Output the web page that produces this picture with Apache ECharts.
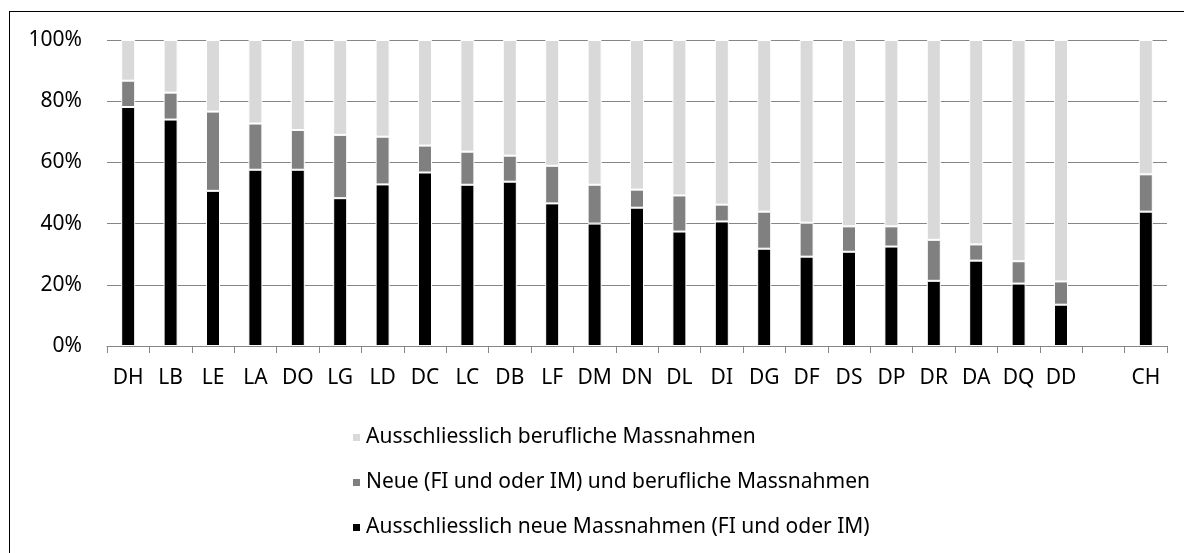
<!DOCTYPE html>
<html>
<head>
<meta charset="utf-8">
<script src="https://cdn.jsdelivr.net/npm/echarts@6/dist/echarts.min.js"></script>
<style>
    html, body { margin: 0; padding: 0; background: #fff; }
    #chart { position: absolute; left: 0; top: 0; width: 1184px; height: 553px; }
    #frame { position: absolute; left: 9px; top: 11px; width: 1300px; height: 700px;
             border-left: 1.5px solid #000; border-top: 1.5px solid #000; pointer-events: none; }
</style>
</head>
<body>
<div id="chart"></div>
<div id="frame"></div>
<script>
// Kantone / Regionen, leere Kategorie als Abstand vor CH
var categories = ['DH', 'LB', 'LE', 'LA', 'DO', 'LG', 'LD', 'DC', 'LC', 'DB', 'LF', 'DM', 'DN',
    'DL', 'DI', 'DG', 'DF', 'DS', 'DP', 'DR', 'DA', 'DQ', 'DD', '', 'CH'];

var seriesNames = [
    'Ausschliesslich neue Massnahmen (FI und oder IM)',
    'Neue (FI und oder IM) und berufliche Massnahmen',
    'Ausschliesslich berufliche Massnahmen'
];

// Anteile in %
var nurNeu = [78.1, 74.0, 50.7, 57.6, 57.6, 48.3, 52.8, 56.7, 52.7, 53.7, 46.6, 40.0, 45.2,
    37.4, 40.7, 31.8, 29.2, 30.8, 32.5, 21.3, 27.9, 20.4, 13.5, '-', 43.9];
var neuUndBeruflich = [8.6, 8.8, 25.9, 15.1, 13.0, 20.7, 15.6, 8.8, 10.8, 8.5, 12.3, 12.7, 5.9,
    11.8, 5.5, 12.1, 11.1, 8.3, 6.6, 13.4, 5.3, 7.3, 7.6, '-', 12.2];
var nurBeruflich = [13.3, 17.2, 23.4, 27.3, 29.4, 31.0, 31.6, 34.5, 36.5, 37.8, 41.1, 47.3, 48.9,
    50.8, 53.8, 56.1, 59.7, 60.9, 60.9, 65.3, 66.8, 72.3, 78.9, '-', 43.9];

var yTicks = { min: 0, max: 100, interval: 20 };

var colors = ['#000000', '#808080', '#d9d9d9'];
var font = '"Noto Sans", "Open Sans", sans-serif';

var chart = echarts.init(document.getElementById('chart'));

var makeSeries = function (name, data, color) {
    return {
        name: name,
        type: 'bar',
        stack: 'total',
        barWidth: 14,
        data: data,
        itemStyle: { color: color, borderColor: '#ffffff', borderWidth: 1 },
        emphasis: { disabled: true }
    };
};

var option = {
    animation: false,
    textStyle: { fontFamily: font },
    grid: { left: 107, right: 17, top: 40, bottom: 207 },
    legend: {
        orient: 'vertical',
        left: 346,
        top: 422,
        itemGap: 24,
        itemWidth: 9,
        itemHeight: 9,
        icon: 'rect',
        data: [seriesNames[2], seriesNames[1], seriesNames[0]],
        textStyle: { fontFamily: font, fontSize: 21, color: '#000' }
    },
    xAxis: {
        type: 'category',
        data: categories,
        axisLine: { lineStyle: { color: '#868686', width: 1 } },
        axisTick: { show: true, length: 7, lineStyle: { color: '#868686' } },
        axisLabel: { fontFamily: font, fontSize: 21, color: '#000', margin: 22, interval: 0 }
    },
    yAxis: {
        type: 'value',
        min: yTicks.min,
        max: yTicks.max,
        interval: yTicks.interval,
        axisLine: { show: false },
        axisTick: { show: false },
        splitLine: { lineStyle: { color: '#868686', width: 1 } },
        axisLabel: { fontFamily: font, fontSize: 21, color: '#000', margin: 25, formatter: '{value}%' }
    },
    series: [
        makeSeries(seriesNames[0], nurNeu, colors[0]),
        makeSeries(seriesNames[1], neuUndBeruflich, colors[1]),
        makeSeries(seriesNames[2], nurBeruflich, colors[2])
    ]
};

chart.setOption(option);
</script>
</body>
</html>
